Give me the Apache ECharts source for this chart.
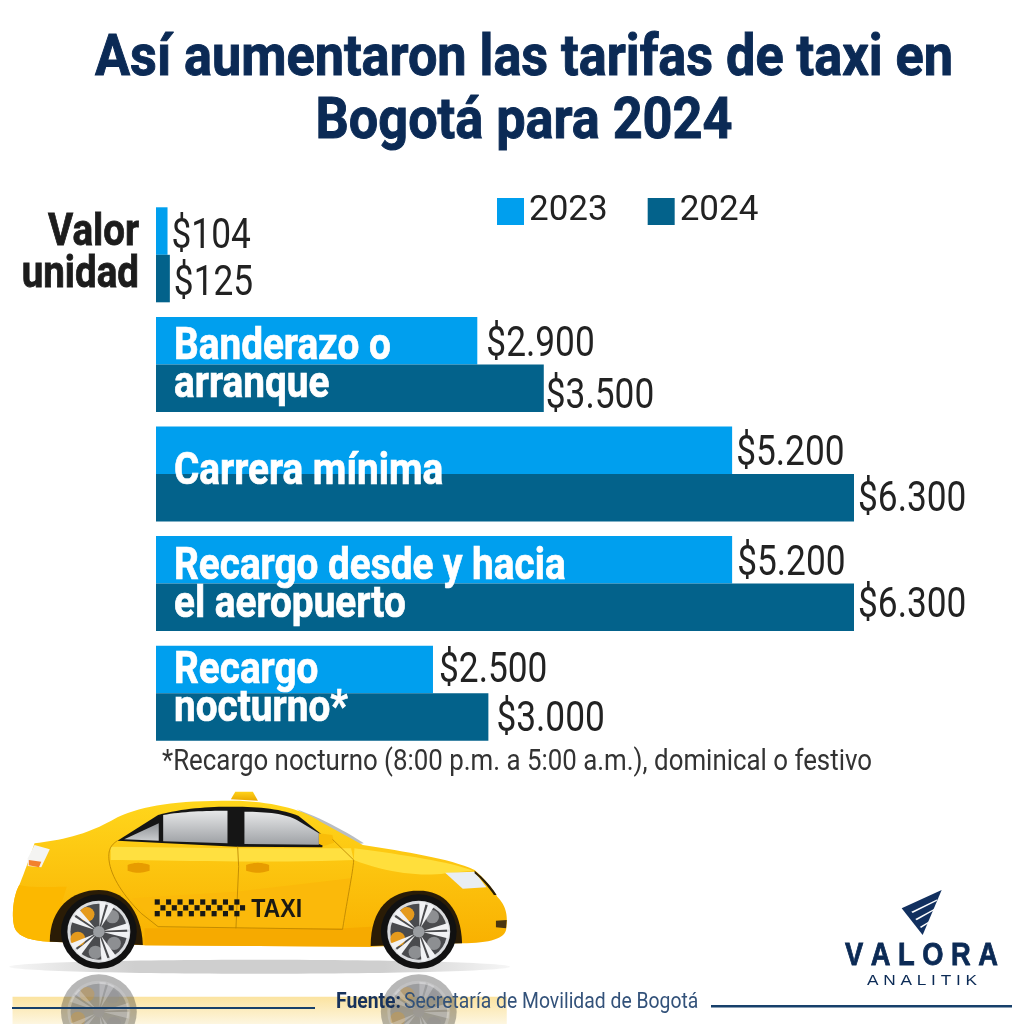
<!DOCTYPE html>
<html><head><meta charset="utf-8">
<style>html,body{margin:0;padding:0;background:#fff}#c{width:1024px;height:1024px}</style>
<script src="https://cdn.jsdelivr.net/npm/echarts@6/dist/echarts.min.js"></script>
</head><body><div id="c"></div>
<script>
const categories = ['Valor\nunidad','Banderazo o\narranque','Carrera mínima','Recargo desde y hacia\nel aeropuerto','Recargo\nnocturno*'];
const years = ['2023','2024'];
const values2023 = [104,2900,5200,5200,2500];
const values2024 = [125,3500,6300,6300,3000];
const titleText = 'Así aumentaron las tarifas de taxi en\nBogotá para 2024';
const footnote = '*Recargo nocturno (8:00 p.m. a 5:00 a.m.), dominical o festivo';
const FONT = 'Roboto,sans-serif';
const NAVY = '#0b2a55';
const fmt = v => '$' + String(v).replace(/\B(?=(\d{3})+$)/g,'.');
const labelNudge = [
  {dx:[0,5,0,1,2],dy:[10,9,8,9,6]},
  {dx:[0,-2,0,0,4],dy:[10,13,7,3,8]}
];

function flatten(d){
  const nums = d.match(/[MLCQZ]|-?[\d.]+/g), subs=[]; let cur=null,i=0,cmd='',x=0,y=0;
  const n=()=>parseFloat(nums[i++]);
  while(i<nums.length){
    if(/[MLCQZ]/.test(nums[i])) cmd=nums[i++];
    if(cmd==='Z'){cur.closed=true;continue;}
    if(cmd==='M'){x=n();y=n();cur=[[x,y]];subs.push(cur);}
    else if(cmd==='L'){x=n();y=n();cur.push([x,y]);}
    else if(cmd==='C'){const a=n(),b=n(),c=n(),e=n(),f=n(),g=n();
      for(let k=1;k<=16;k++){const t=k/16,u=1-t;cur.push([u*u*u*x+3*u*u*t*a+3*u*t*t*c+t*t*t*f,u*u*u*y+3*u*u*t*b+3*u*t*t*e+t*t*t*g]);}x=f;y=g;}
    else if(cmd==='Q'){const a=n(),b=n(),f=n(),g=n();
      for(let k=1;k<=12;k++){const t=k/12,u=1-t;cur.push([u*u*x+2*u*t*a+t*t*f,u*u*y+2*u*t*b+t*t*g]);}x=f;y=g;}
  }
  return subs;
}
function wheel(cx, cy, op){
  const out = [];
  const add = (type, shape, style) => out.push({type, shape, style:Object.assign({opacity:op},style)});
  add('circle',{cx,cy,r:112},{fill:'#111'});
  add('circle',{cx,cy,r:93},{fill:'#d9dbde'});
  add('circle',{cx,cy,r:84},{fill:'#4a4b4e'});
  [[-35,-52],[-62,22]].forEach(b=>add('circle',{cx:cx+b[0],cy:cy+b[1],r:22},{fill:'#e59a1c'}));
  [[40,-45],[45,35],[-10,62]].forEach(b=>add('circle',{cx:cx+b[0],cy:cy+b[1],r:20},{fill:'#8d8f92'}));
  for(let i=0;i<5;i++){
    [0,0.3].forEach(off=>{
      const a=i*2*Math.PI/5-1.55+off, b=a+0.22;
      add('polygon',{points:[[cx+14*Math.cos(a+.11),cy+14*Math.sin(a+.11)],[cx+90*Math.cos(a),cy+90*Math.sin(a)],[cx+90*Math.cos(b),cy+90*Math.sin(b)]]},{fill:'#f1f2f4'});
    });
  }
  add('circle',{cx,cy,r:17},{fill:'#9a9da1'});
  return out;
}
function taxi(){
  const c=[];
  const p=(d,fill,extra)=>flatten(d).forEach(pts=>{
    const st=Object.assign({fill},extra||{});
    if(fill==='none') c.push({type:'polyline',shape:{points:pts},style:{fill:'none',stroke:st.stroke,lineWidth:st.lineWidth}});
    else c.push({type:'polygon',shape:{points:pts},style:st});
  });
  const lg=(a,b)=>({type:'linear',x:0,y:0,x2:0,y2:1,colorStops:[{offset:0,color:a},{offset:1,color:b}]});
  c.push({type:'rect',shape:{x:40,y:650,width:1460,height:82},style:{fill:lg('#fbe3a0','#fdf6e0')}});
  c.push({type:'ellipse',shape:{cx:770,cy:560,rx:740,ry:21},style:{fill:{type:'linear',x:0,y:0,x2:1,y2:0,colorStops:[{offset:0,color:'#f6f6f6'},{offset:0.25,color:'#cfcfcf'},{offset:0.75,color:'#cfcfcf'},{offset:1,color:'#f6f6f6'}]}}});
  wheel(295,695,0.3).concat(wheel(1240,695,0.3)).forEach(e=>c.push(e));
  p('M685 58 L698 35 L750 35 L765 62 Z',lg('#ffd21a','#e9a800'));
  p('M880 88 Q980 125 1078 190 L1040 195 L950 135 Z','#b9bdc2');
  p('M105 190 C180 180 250 170 350 112 C430 75 520 62 690 62 C800 64 890 85 950 125 L1075 195 C1200 215 1330 235 1405 270 C1440 300 1470 345 1472 350 C1495 375 1505 400 1498 450 C1490 480 1440 490 1350 490 L1100 500 L430 496 L150 485 C90 482 55 470 45 440 C35 400 45 340 60 315 C70 290 85 250 105 190 Z',lg('#ffd61c','#f9b000'));
  p('M330 200 L700 205 L1040 205 L1048 240 C800 250 500 240 330 240 Z','#ffe040');
  p('M1050 205 C1200 225 1330 245 1400 272 L1320 280 C1250 290 1150 280 1048 240 Z','#ffdf3c');
  p('M395 355 L700 335 L1040 295 L1020 445 L470 440 Z','#fbb90a');
  p('M430 445 L1020 445 L1100 440 L1100 500 L430 496 Z','#f6aa00');
  p('M60 315 C100 325 160 320 200 320 L150 485 C90 482 55 470 45 440 C35 400 45 340 60 315 Z','#fcb800');
  p('M350 182 L470 105 C540 85 620 80 690 80 C770 80 840 88 885 108 L962 170 L955 202 L700 200 Z','#151515');
  p('M370 178 L472 130 L472 182 Z',lg('#8f9296','#c9cbcd'));
  p('M485 184 L485 105 C540 95 610 92 675 92 L675 190 Z',lg('#e6e7e8','#9fa2a6'));
  p('M725 192 L725 95 C790 95 850 102 880 120 L945 160 L945 194 Z',lg('#e6e7e8','#9fa2a6'));
  p('M945 160 L985 165 L990 188 L960 198 L945 192 Z','#f9bd08');
  p('M350 182 C330 195 322 210 325 240 C330 290 370 350 420 400 L470 440 L1015 448 C1030 350 1045 280 1048 240 L985 178 M705 200 L708 260 L700 445','none',{stroke:'#b98400',lineWidth:2.5});
  p('M380 255 Q410 242 445 255 L445 272 Q410 285 380 272 Z','#e79c00');
  p('M730 255 Q765 242 798 255 L798 272 Q765 285 730 272 Z','#e79c00');
  p('M150 485 C150 385 215 330 295 330 C365 330 420 385 425 495 Z','#2a1c06');
  p('M1098 498 C1098 385 1155 332 1240 332 C1315 332 1365 385 1368 490 Z','#2a1c06');
  wheel(295,455,1).concat(wheel(1240,455,1)).forEach(e=>c.push(e));
  p('M105 195 L150 208 L125 262 L85 258 L85 235 Z','#f4f4f2');
  p('M88 240 L125 245 L118 262 L88 256 Z','#f2812e');
  p('M1318 278 L1405 275 L1440 322 L1370 326 Z','#e9eef3');
  p('M1405 272 Q1445 305 1470 345 L1462 345 Q1435 305 1405 280 Z','#2a1d05');
  p('M1468 422 L1500 420 L1498 445 L1468 442 Z','#4a3510');
  for(let col=0;col<16;col++) for(let row=0;row<3;row++){
    if((col+row)%2===0) c.push({type:'rect',shape:{x:460+col*16.8,y:358+row*17.5,width:15,height:16},style:{fill:'#1a1a14'}});
  }
  c.push({type:'text',style:{text:'TAXI',x:745,y:352,fill:'#1a1a14',font:'bold 76px "Liberation Sans"'},scaleX:0.9,originX:745});
  return {type:'group',x:-1,y:780,scaleX:0.3385,scaleY:1/3,z:1,children:c};
}
function logo(){
  const W='#fff';
  return {type:'group',x:700,y:870,scaleX:1/3,scaleY:1/3,z:2,children:[
    {type:'polygon',shape:{points:[[605,115],[725,60],[668,195]]},style:{fill:'#12305f'}},
    {type:'polygon',shape:{points:[[634,125],[712,88],[710,93],[638,129]]},style:{fill:W}},
    {type:'polygon',shape:{points:[[646,147],[706,115],[704,120],[650,151]]},style:{fill:W}},
    {type:'polygon',shape:{points:[[660,170],[698,148],[696,153],[663,174]]},style:{fill:W}}
  ]};
}
function txt(text,x,y,size,weight,fill,sx,align,lh,stroke){
  return {type:'text',z:10,x,y,scaleX:sx,style:{text,x:0,y:0,fill,align:align||'left',lineHeight:lh,font:weight+' '+size+'px '+FONT,stroke:stroke?fill:undefined,lineWidth:stroke||0}};
}
const barTexts = [
  txt(categories[0],139,213,44,700,'#1c1c1c',0.875,'right',42,0.8),
  txt(categories[1],174,329,44,700,'#fff',0.88,'left',38,0.7),
  txt(categories[2],174,454,44,700,'#fff',0.88,'left',38,0.7),
  txt(categories[3],174,549,44,700,'#fff',0.88,'left',38,0.7),
  txt(categories[4],174,653,44,700,'#fff',0.88,'left',38,0.7)
];
function valueLabels(seriesIdx,vals){
  const nudge = labelNudge[seriesIdx];
  return {name:'v'+seriesIdx,type:'custom',coordinateSystem:'cartesian2d',z:5,data:vals.map((v,i)=>[v,i]),encode:{x:0,y:1},
    renderItem:(params,api)=>{
      const i=api.value(1);
      const pt=api.coord([api.value(0),i]);
      const band=api.size([0,1])[1];
      const yy=pt[1]+(seriesIdx===0?-band*0.217:band*0.217);
      return {type:'text',x:pt[0]+4+nudge.dx[i],y:yy-25+nudge.dy[i],scaleX:0.84,style:{text:fmt(api.value(0)),x:0,y:0,fill:'#222',font:'400 42px '+FONT}};
    }};
}
const chart = echarts.init(document.getElementById('c'),null,{renderer:'canvas',width:1024,height:1024});
chart.setOption({
  animation:false,
  backgroundColor:'#fff',
  legend:{left:492,top:189,itemWidth:27,itemHeight:27,itemGap:40,icon:'rect',data:years,textStyle:{color:'#222',fontFamily:FONT,fontSize:35}},
  grid:{left:156,top:200,width:698,height:548},
  xAxis:{type:'value',min:0,max:6300,show:false},
  yAxis:{type:'category',inverse:true,show:false,data:categories},
  series:[
    {name:years[0],type:'bar',data:values2023,barGap:0,barCategoryGap:'13.3%',itemStyle:{color:'#009fee'}},
    {name:years[1],type:'bar',data:values2024,itemStyle:{color:'#03628b'}},
    valueLabels(0,values2023),valueLabels(1,values2024)
  ],
  graphic:[taxi(),logo()].concat(barTexts).concat([
    txt(titleText,524,29,58,700,NAVY,0.9,'center',63,1),
    txt(footnote,162,747,30,400,'#333',0.862),
    {type:'text',z:10,x:336,y:991,scaleX:0.88,style:{x:0,y:0,rich:{b:{fontSize:22,fontWeight:700,fontFamily:FONT,fill:'#17325c'},r:{fontSize:22,fontFamily:FONT,fill:'#33527a'}},text:'{b|Fuente:} {r|Secretaría de Movilidad de Bogotá}'}},
    {type:'rect',z:3,shape:{x:12,y:1007,width:303,height:2},style:{fill:'#17406b'}},
    {type:'rect',z:3,shape:{x:711,y:1005,width:301,height:2.5},style:{fill:'#17406b'}},
    {type:'text',z:10,x:921.5,y:941,scaleX:0.88,style:{text:'V A L O R A',x:0,y:0,fill:NAVY,align:'center',font:'bold 31px "Liberation Sans"',stroke:NAVY,lineWidth:0.8}},
    {type:'text',z:10,x:922,y:973,scaleX:1.15,style:{text:'A N A L I T I K',x:0,y:0,fill:NAVY,align:'center',font:'15px "Liberation Sans"'}}
  ])
});
</script></body></html>
